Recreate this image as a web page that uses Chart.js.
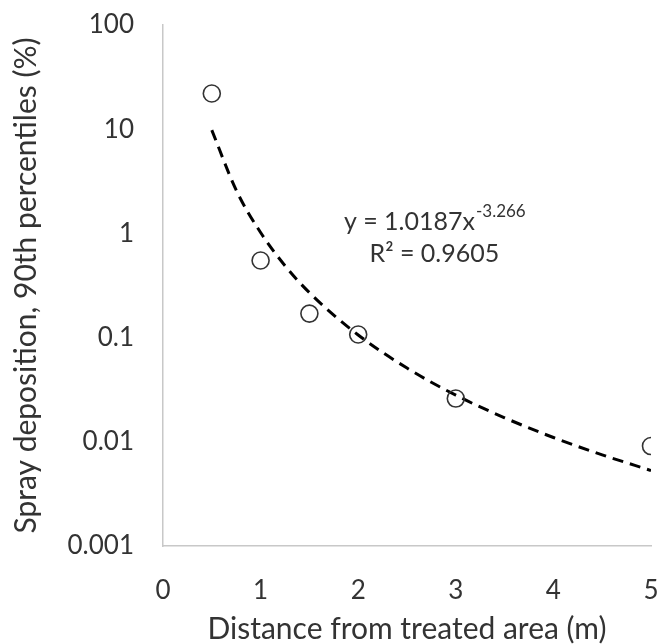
<!DOCTYPE html>
<html>
<head>
<meta charset="utf-8">
<script src="https://cdn.jsdelivr.net/npm/chart.js@4"></script>
<style>
  body { margin: 0; background: #fff; overflow: hidden; }
  canvas { display: block; }
</style>
</head>
<body>
<canvas id="sprayChart" width="664" height="644"></canvas>
<script>
// measured points (x = distance, y = 90th percentile deposition %)
const distances = [0.5, 1, 1.5, 2, 3, 5];
const deposition = [22, 0.55, 0.17, 0.107, 0.026, 0.0091];

// power trendline
const trendX = [0.5, 0.75, 1, 1.25, 1.5, 2, 2.5, 3, 3.5, 4, 4.5, 5];
const trendY = [9.8, 2.6, 1.02, 0.49, 0.27, 0.106, 0.051, 0.028, 0.017, 0.011, 0.0075, 0.0053];

const yTicks = [0.001, 0.01, 0.1, 1, 10, 100];
const xTicks = [0, 1, 2, 3, 4, 5];

const eqLine1 = 'y = 1.0187x';
const eqExp = '-3.266';
const eqLine2 = 'R² = 0.9605';
const eqPos = { x: 2.78, y1: 1.3, y2: 0.64 };

const fontFamily = 'Lato, "Open Sans", sans-serif';
const textColor = '#333333';

const equationLabel = {
    id: 'equationLabel',
    afterDatasetsDraw(chart) {
        const { ctx, scales } = chart;
        const cx = scales.x.getPixelForValue(eqPos.x);
        ctx.save();
        ctx.fillStyle = textColor;
        ctx.textBaseline = 'middle';
        ctx.font = '25px ' + fontFamily;
        const baseW = ctx.measureText(eqLine1).width;
        ctx.font = '17px ' + fontFamily;
        const expW = ctx.measureText(eqExp).width;
        const x0 = cx - (baseW + expW) / 2;
        const y1 = scales.y.getPixelForValue(eqPos.y1);
        ctx.textAlign = 'left';
        ctx.font = '25px ' + fontFamily;
        ctx.fillText(eqLine1, x0, y1);
        ctx.font = '17px ' + fontFamily;
        ctx.fillText(eqExp, x0 + baseW + 1, y1 - 10);

        ctx.font = '25px ' + fontFamily;
        ctx.textAlign = 'center';
        ctx.fillText(eqLine2, cx, scales.y.getPixelForValue(eqPos.y2));
        ctx.restore();
    }
};

new Chart(document.getElementById('sprayChart').getContext('2d'), {
    type: 'scatter',
    data: {
        datasets: [
            {
                label: 'Trend',
                type: 'line',
                data: trendX.map((x, i) => ({ x: x, y: trendY[i] })),
                borderColor: '#000000',
                borderWidth: 3,
                borderDash: [11, 7],
                pointRadius: 0,
                fill: false,
                cubicInterpolationMode: 'monotone',
                order: 2
            },
            {
                label: 'Spray deposition',
                data: distances.map((x, i) => ({ x: x, y: deposition[i] })),
                pointStyle: 'circle',
                pointRadius: 8.5,
                pointBorderWidth: 1.6,
                borderColor: '#333333',
                backgroundColor: 'rgba(0,0,0,0)',
                order: 1
            }
        ]
    },
    options: {
        responsive: false,
        animation: false,
        devicePixelRatio: 1,
        layout: {
            padding: { left: 0, right: 13, top: 25, bottom: 0 }
        },
        plugins: {
            legend: { display: false },
            tooltip: { enabled: false }
        },
        scales: {
            x: {
                type: 'linear',
                min: 0,
                max: 5,
                afterBuildTicks: scale => { scale.ticks = xTicks.map(v => ({ value: v })); },
                afterFit: scale => { scale.height = 98; },
                grid: { display: false, drawTicks: true, tickLength: 27 },
                border: { display: true, color: '#c8c8c8', width: 1.5 },
                ticks: {
                    padding: 2,
                    color: textColor,
                    font: { family: fontFamily, size: 26 }
                },
                title: {
                    display: true,
                    text: 'Distance from treated area (m)',
                    color: textColor,
                    font: { family: fontFamily, size: 30 },
                    padding: { top: 0, bottom: -3 }
                }
            },
            y: {
                type: 'logarithmic',
                min: 0.001,
                max: 100,
                afterBuildTicks: scale => { scale.ticks = yTicks.map(v => ({ value: v })); },
                afterFit: scale => { scale.width = 163; },
                grid: { display: false, drawTicks: true, tickLength: 27 },
                border: { display: true, color: '#c8c8c8', width: 1.5 },
                ticks: {
                    padding: 2,
                    color: textColor,
                    font: { family: fontFamily, size: 26 },
                    callback: value => String(value)
                },
                title: {
                    display: true,
                    text: 'Spray deposition, 90th percentiles (%)',
                    color: textColor,
                    font: { family: fontFamily, size: 30 },
                    padding: { top: 8, bottom: 0 }
                }
            }
        }
    },
    plugins: [equationLabel]
});
</script>
</body>
</html>
